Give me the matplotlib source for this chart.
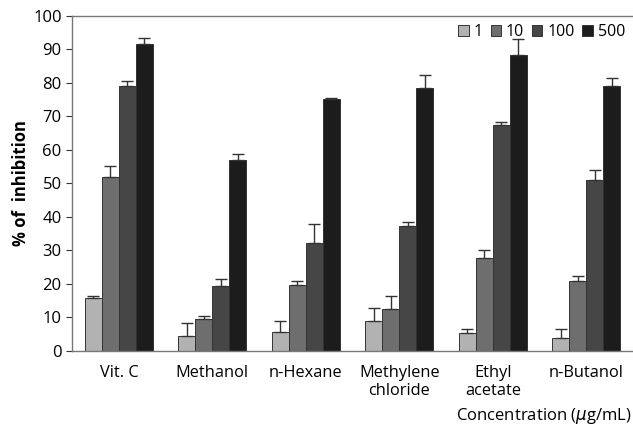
import matplotlib.pyplot as plt
import numpy as np

plt.rcParams['font.family'] = ['Open Sans', 'DejaVu Sans']

categories = ['Vit. C', 'Methanol', 'n-Hexane', 'Methylene\nchloride', 'Ethyl\nacetate', 'n-Butanol']
conc_labels = ['1', '10', '100', '500']
# % inhibition per concentration (rows) and extract (columns)
vals_1 = [15.9, 4.3, 5.5, 9.0, 5.3, 3.8]
vals_10 = [52.0, 9.5, 19.8, 12.4, 27.7, 21.0]
vals_100 = [79.0, 19.5, 32.3, 37.2, 67.5, 51.0]
vals_500 = [91.5, 57.0, 75.1, 78.4, 88.4, 79.2]
err_1 = [0.5, 4.0, 3.3, 3.7, 1.3, 2.7]
err_10 = [3.3, 1.0, 1.2, 4.1, 2.4, 1.3]
err_100 = [1.5, 2.0, 5.7, 1.4, 0.7, 3.0]
err_500 = [2.0, 1.8, 0.4, 4.1, 4.6, 2.4]
colors = ['#b2b2b2', '#6e6e6e', '#464646', '#1c1c1c']

series = [vals_1, vals_10, vals_100, vals_500]
errs = [err_1, err_10, err_100, err_500]

fig = plt.figure(figsize=(6.33, 4.3), dpi=100)
ax = fig.add_axes([0.114, 0.184, 0.886, 0.779])

x = np.arange(len(categories))
w = 0.182
for k in range(4):
    pos = x + (k - 1.5) * w
    ax.bar(pos, series[k], w, color=colors[k], edgecolor='#333333', linewidth=0.7,
           label=conc_labels[k], zorder=2)
    ax.errorbar(pos, series[k], yerr=[np.zeros(len(x)), errs[k]], fmt='none',
                ecolor='#333333', elinewidth=1.0, capsize=4, capthick=1.0, zorder=3)

ax.set_xlim(-0.5, len(categories) - 0.5)
ax.set_ylim(0, 100)
ax.set_yticks(np.arange(0, 101, 10))
ax.tick_params(axis='y', direction='out', length=4, labelsize=12, colors='#333333', width=0.8)
ax.tick_params(axis='x', length=0, labelsize=11.8, pad=10)
for lab in ax.get_yticklabels():
    lab.set_color('black')
ax.set_xticks(x)
ax.set_xticklabels(categories, color='black', linespacing=1.15)

ax.spines['right'].set_visible(False)
for s in ['left', 'bottom', 'top']:
    ax.spines[s].set_color('#777777')
    ax.spines[s].set_linewidth(1.0)

ax.set_ylabel('% of  inhibition', fontsize=12, fontweight='bold', labelpad=2)
fig.text(0.998, 0.033, r'Concentration ($\mu$g/mL)', ha='right', va='center', fontsize=12)

ax.legend(loc='upper right', ncol=4, frameon=False, fontsize=11.5, handlelength=0.65,
          handleheight=0.65, handletextpad=0.3, columnspacing=0.5,
          bbox_to_anchor=(1.0, 1.0), borderaxespad=0.1)

fig.savefig('out.png', dpi=100)
